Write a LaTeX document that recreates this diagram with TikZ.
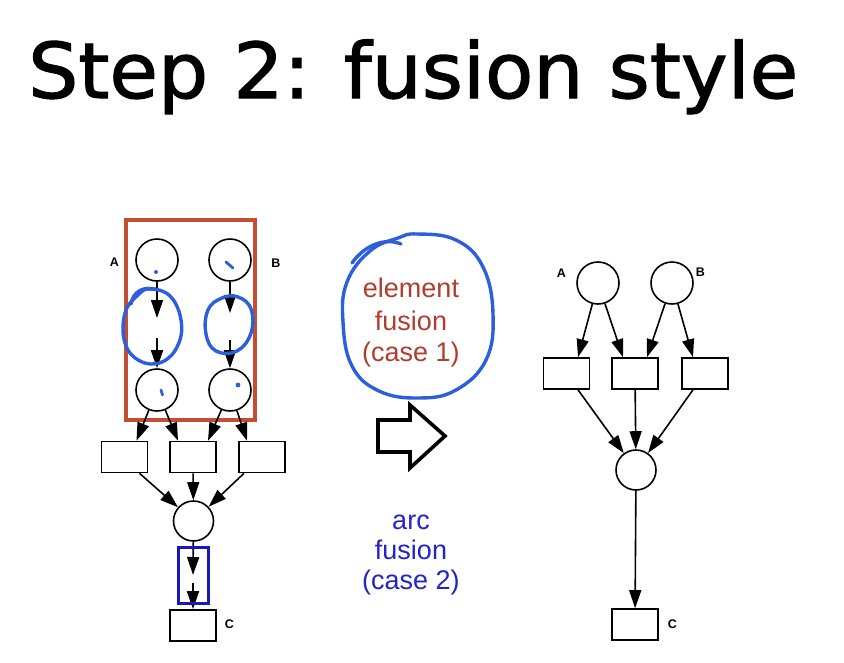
\documentclass[tikz,border=0pt]{standalone}
\usepackage{fontspec}
\usepackage{graphicx}
\setmainfont{Liberation Sans}
\newfontfamily\titlefont[FakeBold=1.4]{DejaVu Sans}
\usetikzlibrary{arrows.meta,calc}

\definecolor{boxred}{RGB}{196,78,50}
\definecolor{textred}{RGB}{178,60,45}
\definecolor{penblue}{RGB}{45,95,220}
\definecolor{textblue}{RGB}{35,35,200}
\definecolor{boxblue}{RGB}{25,25,185}

\begin{document}
\begin{tikzpicture}[x=1pt,y=-1pt,
  place/.style={circle,draw,line width=1.6pt,minimum size=42pt,inner sep=0pt},
  smallplace/.style={place,minimum size=40pt},
  trans/.style={rectangle,draw,line width=1.6pt,minimum width=46pt,minimum height=31pt,inner sep=0pt},
  arc/.style={-{Triangle[length=18pt,width=12pt]},line width=1.6pt},
  lbl/.style={font=\bfseries\fontsize{12.5}{14}\selectfont,inner sep=0pt},
  pen/.style={draw=penblue,line width=3.4pt,line cap=round,line join=round},
  casetext/.style={font=\fontsize{27}{30}\selectfont,anchor=base,inner sep=0pt},
]
\useasboundingbox (0,0) rectangle (844,662);

% heading
\node[anchor=base west,inner sep=0pt] (title) at (28,98)
  {\resizebox{770pt}{\height}{\titlefont\fontsize{77}{80}\selectfont Step 2: fusion style}};

% ---------------- net before fusion ----------------
\node[place] (A1) at (157,260) {};
\node[place] (B1) at (230,260) {};
\node[place] (A2) at (157,390) {};
\node[place] (B2) at (230,390) {};
\node[lbl] (labA1) at (114.5,262) {A};
\node[lbl] (labB1) at (276,263) {B};

\draw[boxred,line width=3.2pt] (126,220) rectangle (255,420);

% arcs whose transitions are merged away
\coordinate (a1) at (157,318);
\coordinate (a2) at (157,338);
\coordinate (b1) at (230,313);
\coordinate (b2) at (230,340);
\draw[arc] (A1) -- (a1);
\draw[arc] (a2) -- (A2);
\draw[arc] (B1) -- (b1);
\draw[arc] (b2) -- (B2);

\node[trans] (t1) at (124.5,457) {};
\node[trans] (t2) at (193,457) {};
\node[trans] (t3) at (262,457) {};
\draw[arc] (A2) -- ($(t1.north)+(12,0)$);
\draw[arc] (A2) -- ($(t2.north)+(-15,0)$);
\draw[arc] (B2) -- ($(t2.north)+(15,0)$);
\draw[arc] (B2) -- ($(t3.north)+(-15,0)$);

\node[smallplace] (P) at (193.5,521) {};
\draw[arc] ($(t1.south)+(15,0)$) -- (P);
\draw[arc] (t2) -- (P);
\draw[arc] ($(t3.south)+(-18,0)$) -- (P);

\node[trans] (tC) at (193,625.5) {};
\node[lbl] (labC1) at (229.5,624.5) {C};
\coordinate (p1) at (193,575);
\coordinate (p2) at (193,583);
\draw[arc] (P) -- (p1);
\draw[arc] (p2) -- (tC);
\draw[boxblue,line width=3pt] (178,547) rectangle (208,603);

% pen marks
\draw[pen] plot[smooth cycle,tension=0.7] coordinates
  {(150,289) (170,296) (181,320) (178,345) (162,362) (140,361) (125,343) (125,313) (138,295)};
\draw[pen] (131,304) .. controls (133,292) and (143,285) .. (158,290);
\draw[pen] plot[smooth cycle,tension=0.7] coordinates
  {(238,297) (251,309) (251,333) (237,351) (216,351) (206,334) (208,310) (222,298)};
\fill[penblue] (156,272) circle (2pt);
\draw[pen,line width=2.8pt] (226,262) -- (233,268);
\draw[pen,line width=2.8pt] (161,390) -- (162.5,395);
\fill[penblue] (238,385) circle (2.4pt);

% ---------------- middle: fusion kinds ----------------
\node[casetext,textred] (e1) at (411,297) {element};
\node[casetext,textred] (e2) at (411,330) {fusion};
\node[casetext,textred] (e3) at (411,361) {(case 1)};
\draw[pen] plot[smooth cycle,tension=0.7] coordinates
  {(417,234) (456,240) (483,267) (493,314) (486,360) (456,390) (419,398) (379,391) (352,366) (343,322) (347,282) (370,251) (398,238)};
\draw[pen] (401,244) .. controls (384,237) and (364,246) .. (352,263);

\draw[line width=3.6pt,line join=miter] (378,420) -- (410,420) -- (410,405) -- (445,436)
  -- (410,468) -- (410,452) -- (378,452) -- cycle;

\node[casetext,textblue] (c1) at (411,529) {arc};
\node[casetext,textblue] (c2) at (411,559) {fusion};
\node[casetext,textblue] (c3) at (411,589) {(case 2)};

% ---------------- net after fusion ----------------
\node[place] (A3) at (598,283) {};
\node[place] (B3) at (672,283) {};
\node[lbl] (labA3) at (561.5,273) {A};
\node[lbl] (labB3) at (700.5,272) {B};

\node[trans] (r1) at (566.5,373.5) {};
\node[trans] (r2) at (635,373.5) {};
\node[trans] (r3) at (705,373.5) {};
\draw[arc] (A3) -- ($(r1.north)+(11.5,0)$);
\draw[arc] (A3) -- ($(r2.north)+(-12,0)$);
\draw[arc] (B3) -- ($(r2.north)+(12,0)$);
\draw[arc] (B3) -- ($(r3.north)+(-12,0)$);

\node[smallplace] (Q) at (636,470) {};
\draw[arc] ($(r1.south)+(11.5,0)$) -- (Q);
\draw[arc] (r2) -- (Q);
\draw[arc] ($(r3.south)+(-12,0)$) -- (Q);

\node[trans] (tC2) at (635,624.5) {};
\node[lbl] (labC2) at (672.5,624) {C};
\draw[arc] (Q) -- (tC2);
\end{tikzpicture}
\end{document}
